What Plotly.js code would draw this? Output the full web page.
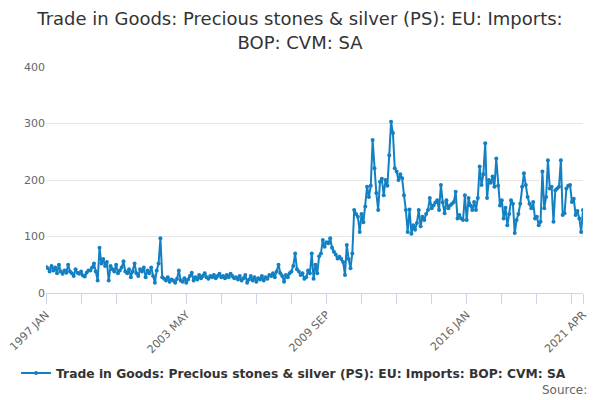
<!DOCTYPE html>
<html>
<head>
<meta charset="utf-8">
<script src="https://cdn.plot.ly/plotly-3.0.1.min.js"></script>
<style>
  html, body { margin: 0; padding: 0; background: #fff; }
  #chart { width: 600px; height: 400px; }
</style>
</head>
<body>
<div id="chart"></div>
<script>
// monthly series, 1997 JAN to 2021 APR
var monthNames = ['JAN', 'FEB', 'MAR', 'APR', 'MAY', 'JUN', 'JUL', 'AUG', 'SEP', 'OCT', 'NOV', 'DEC'];
var startYear = 1997;

var values = [
  46, 44, 38, 48, 40, 45, 35, 50, 38, 34, 40, 36, 50, 38, 35, 30, 42, 36, 34, 38, 31, 29, 36, 40,
  40, 45, 52, 38, 22, 80, 52, 60, 48, 55, 22, 48, 42, 38, 50, 35, 40, 45, 56, 38, 35, 42, 28, 38,
  52, 35, 30, 42, 38, 45, 28, 40, 35, 45, 30, 18, 40, 52, 97, 28, 25, 22, 28, 20, 24, 22, 18, 25,
  40, 22, 20, 26, 18, 24, 30, 36, 22, 28, 24, 32, 26, 30, 35, 28, 25, 30, 28, 32, 26, 30, 34, 28,
  30, 26, 32, 28, 34, 30, 26, 28, 24, 30, 22, 26, 32, 18, 24, 30, 22, 28, 20, 26, 24, 30, 22, 28,
  25, 32, 30, 35, 28, 38, 50, 35, 30, 20, 32, 28, 35, 38, 48, 70, 42, 38, 32, 35, 25, 28, 40, 35,
  70, 25, 50, 35, 65, 70, 94, 82, 90, 88, 97, 80, 73, 68, 61, 64, 60, 55, 32, 85, 60, 44, 70, 147,
  140, 135, 108, 140, 125, 153, 188, 170, 190, 271, 221, 177, 147, 197, 202, 173, 200, 190, 244, 303,
  283, 221, 215, 200, 210, 203, 173, 147, 108, 148, 105, 120, 112, 124, 147, 118, 135, 129, 140, 147,
  168, 150, 155, 160, 164, 147, 191, 160, 141, 164, 150, 155, 158, 161, 179, 132, 138, 132, 129, 173,
  129, 168, 155, 147, 161, 147, 168, 224, 191, 210, 265, 168, 200, 195, 206, 188, 238, 190, 155, 164,
  132, 151, 120, 140, 164, 158, 106, 129, 140, 158, 188, 212, 191, 170, 158, 150, 161, 132, 135, 120,
  126, 215, 150, 170, 235, 185, 188, 126, 182, 185, 188, 235, 138, 141, 185, 190, 191, 161, 167, 138,
  145, 132, 108, 147
];

var months = [];
for (var i = 0; i < values.length; i++) {
  months.push(String(startYear + Math.floor(i / 12)) + ' ' + monthNames[i % 12]);
}

// minor ticks every 19 months, labels every 76, plus the last month
var tickVals = [];
var tickText = [];
for (var i = 0; i < months.length - 6; i += 19) {
  tickVals.push(months[i]);
  tickText.push(i % 76 == 0 ? months[i] : '');
}
tickVals.push(months[months.length - 1]);
tickText.push(months[months.length - 1]);

var seriesName = 'Trade in Goods: Precious stones & silver (PS): EU: Imports: BOP: CVM: SA';

var trace = {
  x: months,
  y: values,
  type: 'scatter',
  mode: 'lines+markers',
  name: seriesName,
  line: {color: '#1380c3', width: 2},
  marker: {color: '#1380c3', size: 4}
};

var layout = {
  width: 600,
  height: 400,
  margin: {l: 46, r: 17, t: 67, b: 107},
  paper_bgcolor: '#fff',
  plot_bgcolor: '#fff',
  font: {family: 'DejaVu Sans, sans-serif', color: '#333'},
  title: {
    text: 'Trade in Goods: Precious stones & silver (PS): EU: Imports:<br>BOP: CVM: SA',
    font: {size: 18, color: '#333'},
    x: 0.5,
    xanchor: 'center',
    y: 0.937,
    yanchor: 'top'
  },
  xaxis: {
    type: 'category',
    range: [0, months.length - 1],
    tickvals: tickVals,
    ticktext: tickText,
    tickangle: -45,
    ticks: 'outside',
    ticklen: 10,
    tickcolor: '#ccd6eb',
    showline: true,
    linecolor: '#ccd6eb',
    showgrid: false,
    zeroline: false,
    tickfont: {size: 11, color: '#666'}
  },
  yaxis: {
    range: [0, 400],
    tickvals: [0, 100, 200, 300, 400],
    showgrid: true,
    gridcolor: '#e6e6e6',
    zeroline: false,
    showline: false,
    ticks: '',
    tickfont: {size: 11, color: '#666'}
  },
  showlegend: true,
  legend: {
    orientation: 'h',
    x: 0.461,
    xanchor: 'center',
    y: -0.354,
    yanchor: 'middle',
    font: {size: 12.3, color: '#333', weight: 'bold'}
  },
  annotations: [{
    text: 'Source:',
    xref: 'paper',
    yref: 'paper',
    x: 1.011,
    xanchor: 'right',
    y: -0.43,
    yanchor: 'middle',
    showarrow: false,
    font: {size: 12, color: '#666'}
  }]
};

Plotly.newPlot('chart', [trace], layout, {displayModeBar: false, staticPlot: true});
</script>
</body>
</html>
